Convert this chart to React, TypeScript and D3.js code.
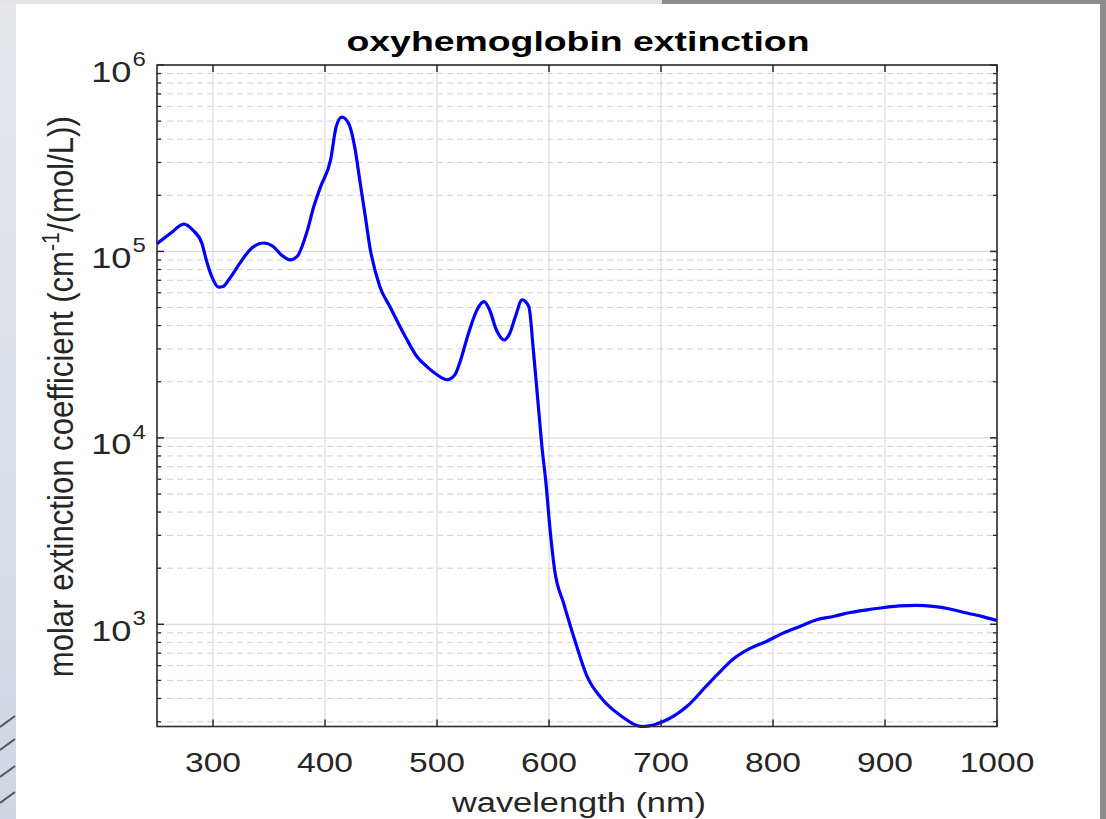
import React from "react";
import * as d3 from "d3";

// oxyhemoglobin molar extinction
const WAVELENGTH = [
  250, 262, 274, 282, 290, 294, 299, 305, 309, 315, 324, 333, 345, 354, 361, 369, 375, 384, 390, 396,
  405, 410, 415, 421, 427, 431, 436, 440, 449, 458, 467, 473, 482, 491, 500, 509, 516, 521, 526, 530,
  536, 542, 547, 553, 560, 565, 570, 576, 582, 586, 590, 594, 597, 601, 605, 613, 622, 634, 648, 663,
  684, 702, 723, 741, 750, 765, 780, 794, 809, 824, 839, 854, 869, 884, 899, 913, 928, 943, 958, 973,
  988, 1000,
];
const EXTINCTION = [
  110000, 125000, 140000, 130000, 111000, 90000, 73000, 64300, 64800, 71800, 86500, 102000, 111000, 106000,
  95800, 90000, 93700, 128000, 174000, 222000, 310000, 467000, 525000, 487000, 350000, 242000, 154000,
  106000, 64700, 50500, 39500, 33800, 27300, 24100, 21800, 20500, 21800, 26000, 33000, 39500, 49000, 53800,
  48500, 38000, 33500, 36400, 44700, 55000, 50600, 29700, 16000, 8600, 5960, 3200, 1960, 1300, 860, 525,
  394, 327, 283, 301, 362, 470, 535, 655, 745, 809, 897, 973, 1057, 1101, 1157, 1196, 1231, 1256, 1262,
  1247, 1208, 1149, 1096, 1047,
];
const X_TICKS = [300, 400, 500, 600, 700, 800, 900, 1000];
const Y_EXPONENTS = [3, 4, 5, 6];
const Y_TOP = 1e6;

const TITLE = "oxyhemoglobin extinction";
const X_LABEL = "wavelength (nm)";

const W = 1106;
const H = 819;
const left = 157;
const right = 997;
const top = 65;
const bottom = 726.5;
const FONT = "'Liberation Sans', Arial, Helvetica, sans-serif";
const AXIS = "#2b2b2b";

export default function App() {
  const x = d3.scaleLinear().domain([d3.min(WAVELENGTH)!, d3.max(WAVELENGTH)!]).range([left, right]);
  const y = d3.scaleLog().domain([d3.min(EXTINCTION)!, Y_TOP]).range([bottom, top]);
  const yMin = y.domain()[0];

  const minor: number[] = [];
  for (let e = Math.floor(Math.log10(yMin)); e < 6; e++) {
    for (let k = 2; k <= 9; k++) {
      const v = k * Math.pow(10, e);
      if (v >= yMin && v < Y_TOP) minor.push(v);
    }
  }

  const line = d3
    .line<number>()
    .x((d, i) => x(WAVELENGTH[i]))
    .y((d) => y(d))
    .curve(d3.curveMonotoneX);

  return (
    <svg width={W} height={H} style={{ position: "absolute", left: 0, top: 0 }}>
      <defs>
        <linearGradient id="strip" x1="0" y1="0" x2="0" y2="1">
          <stop offset="0" stopColor="#e6e7eb" />
          <stop offset="1" stopColor="#d0d7e3" />
        </linearGradient>
      </defs>
      {/* page around the figure */}
      <rect x={0} y={0} width={W} height={H} fill="#ffffff" />
      <rect x={0} y={0} width={16} height={H} fill="url(#strip)" />
      <rect x={0} y={0} width={662} height={4} fill="#e3e3e7" />
      <rect x={662} y={0} width={W - 662} height={4} fill="#8c8c8c" />
      <rect x={1100} y={0} width={6} height={H} fill="#8c8c8c" />
      {[727, 750, 777, 803].map((yy) => (
        <line key={yy} x1={0} y1={yy} x2={15} y2={yy - 11} stroke="#555" strokeWidth={2} />
      ))}

      {/* grid */}
      {minor.map((v) => (
        <line key={"m" + v} x1={left} x2={right} y1={y(v)} y2={y(v)} stroke="#d2d2d2" strokeWidth={1} strokeDasharray="6,4" />
      ))}
      {Y_EXPONENTS.map((e) => (
        <line key={"g" + e} x1={left} x2={right} y1={y(10 ** e)} y2={y(10 ** e)} stroke="#dadada" strokeWidth={1.2} />
      ))}
      {X_TICKS.map((t) => (
        <line key={"v" + t} x1={x(t)} x2={x(t)} y1={top} y2={bottom} stroke="#dadada" strokeWidth={1.2} />
      ))}

      {/* data */}
      <path d={line(EXTINCTION) ?? ""} fill="none" stroke="#0000ff" strokeWidth={3.2} strokeLinejoin="round" />

      {/* axes box and ticks */}
      <rect x={left} y={top} width={right - left} height={bottom - top} fill="none" stroke={AXIS} strokeWidth={1.6} />
      {X_TICKS.map((t) => (
        <g key={"xt" + t}>
          <line x1={x(t)} x2={x(t)} y1={bottom} y2={bottom - 7} stroke={AXIS} strokeWidth={1.5} />
          <line x1={x(t)} x2={x(t)} y1={top} y2={top + 7} stroke={AXIS} strokeWidth={1.5} />
          <text
            transform={`translate(${x(t)},772) scale(1.2,1)`}
            textAnchor="middle"
            fontFamily={FONT}
            fontSize={28}
            fill="#262626"
          >
            {t}
          </text>
        </g>
      ))}
      {minor.map((v) => (
        <g key={"yt" + v}>
          <line x1={left} x2={left + 4} y1={y(v)} y2={y(v)} stroke={AXIS} strokeWidth={1.3} />
          <line x1={right} x2={right - 4} y1={y(v)} y2={y(v)} stroke={AXIS} strokeWidth={1.3} />
        </g>
      ))}
      {Y_EXPONENTS.map((e) => {
        const yy = y(10 ** e);
        return (
          <g key={"yl" + e}>
            <line x1={left} x2={left + 7} y1={yy} y2={yy} stroke={AXIS} strokeWidth={1.5} />
            <line x1={right} x2={right - 7} y1={yy} y2={yy} stroke={AXIS} strokeWidth={1.5} />
            <text
              transform={`translate(131.5,${yy + 16.5}) scale(1.25,1)`}
              textAnchor="end"
              fontFamily={FONT}
              fontSize={29}
              fill="#262626"
            >
              10
            </text>
            <text
              transform={`translate(132.5,${yy + 1}) scale(1.2,1)`}
              textAnchor="start"
              fontFamily={FONT}
              fontSize={20}
              fill="#262626"
            >
              {e}
            </text>
          </g>
        );
      })}

      {/* labels */}
      <text
        x={578}
        y={51}
        textAnchor="middle"
        fontFamily={FONT}
        fontWeight="bold"
        fontSize={28}
        textLength={463}
        lengthAdjust="spacingAndGlyphs"
        fill="#000"
      >
        {TITLE}
      </text>
      <text
        x={579}
        y={812}
        textAnchor="middle"
        fontFamily={FONT}
        fontSize={27}
        textLength={254}
        lengthAdjust="spacingAndGlyphs"
        fill="#262626"
      >
        {X_LABEL}
      </text>
      <text
        transform={`translate(73,${(top + bottom) / 2 + 1}) scale(1.2,1) rotate(-90)`}
        textAnchor="middle"
        fontFamily={FONT}
        fontSize={29}
        textLength={561}
        lengthAdjust="spacingAndGlyphs"
        fill="#262626"
      >
        molar extinction coefficient (cm
        <tspan fontSize={20} dy={-12}>
          -1
        </tspan>
        <tspan dy={12}>/(mol/L))</tspan>
      </text>
    </svg>
  );
}
